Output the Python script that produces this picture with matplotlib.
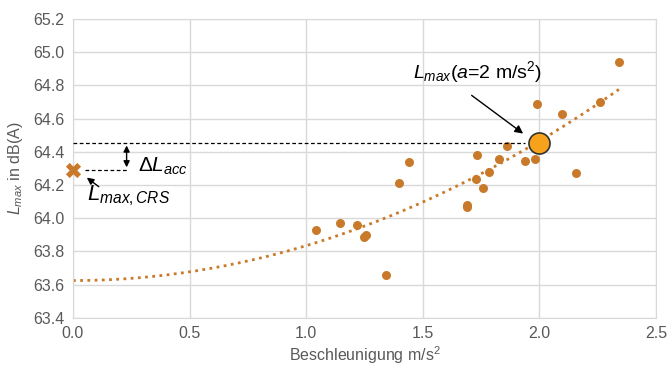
import matplotlib.pyplot as plt
import numpy as np

plt.rcParams['font.family'] = ['Liberation Sans', 'DejaVu Sans']
plt.rcParams['mathtext.fontset'] = 'custom'
plt.rcParams['mathtext.rm'] = 'Liberation Sans'
plt.rcParams['mathtext.it'] = 'Liberation Sans:italic'

# measured points (acceleration m/s^2, Lmax dB(A))
acc = [1.04, 1.145, 1.218, 1.248, 1.255, 1.342, 1.40, 1.44, 1.69, 1.69,
       1.728, 1.732, 1.758, 1.784, 1.827, 1.861, 1.94, 1.98, 1.99, 2.097,
       2.157, 2.26, 2.341]
lmax = [63.93, 63.97, 63.96, 63.89, 63.90, 63.66, 64.21, 64.34, 64.07, 64.08,
        64.236, 64.38, 64.18, 64.28, 64.356, 64.435, 64.345, 64.356, 64.69, 64.63,
        64.27, 64.70, 64.94]

# trend line coefficients (c2, c1, c0)
trend = [0.21, 0.0, 63.625]

# reference values
a_ref = 2.0
l_ref = 64.455
l_crs = 64.29

xticks = [0.0, 0.5, 1.0, 1.5, 2.0, 2.5]
yticks = [63.4, 63.6, 63.8, 64.0, 64.2, 64.4, 64.6, 64.8, 65.0, 65.2]

dot_col = '#C87A2A'
txt_col = '#595959'

fig = plt.figure(figsize=(6.67, 3.65), dpi=100)
ax = fig.add_axes([0.1094, 0.129, 0.8741, 0.819])

# polynomial trend line
xs = np.linspace(0, max(acc), 200)
ax.plot(xs, np.polyval(trend, xs), color=dot_col, linestyle=(0, (1, 1.6)), lw=2.0, zorder=2)

ax.scatter(acc, lmax, s=42, color=dot_col, zorder=3, linewidths=0)
ax.scatter([0], [l_crs], marker='X', s=120, color=dot_col, zorder=4, linewidths=0, clip_on=False)
ax.scatter([a_ref], [l_ref], s=230, color='#F7A21B', edgecolor='#333333', linewidths=1.2, zorder=5)

# dashed reference lines
ax.plot([0, a_ref - 0.06], [l_ref, l_ref], color='black', ls=(0, (3, 2)), lw=0.9, zorder=3)
ax.plot([0.05, 0.23], [l_crs, l_crs], color='black', ls=(0, (3, 2)), lw=0.9, zorder=3)
ax.annotate('', xy=(0.23, l_ref), xytext=(0.23, l_crs),
            arrowprops=dict(arrowstyle='<|-|>', color='black', lw=1.0, mutation_scale=9))
ax.text(0.28, 64.31, r'$\mathit{\Delta L}_{acc}$', fontsize=15, color='black', va='center')

ax.annotate('', xy=(0.05, 64.255), xytext=(0.12, 64.18),
            arrowprops=dict(arrowstyle='-|>', color='black', lw=1.0, mutation_scale=10))
ax.text(0.06, 64.06, r'$L_{max,CRS}$', fontsize=16, color='black', va='bottom')

ax.annotate('', xy=(1.94, 64.5), xytext=(1.7, 64.75),
            arrowprops=dict(arrowstyle='-|>', color='black', lw=1.0, mutation_scale=12))
ax.text(1.46, 64.88, r'$L_{max}$($a$=2 m/s$^2$)', fontsize=14, color='black', va='center')

ax.set_xlim(0, 2.5)
ax.set_ylim(63.4, 65.2)
ax.set_xticks(xticks)
ax.set_yticks(yticks)
ax.set_xticklabels(['%.1f' % t for t in xticks])
ax.set_yticklabels(['%.1f' % t for t in yticks])
ax.tick_params(length=0, labelsize=11.5, colors=txt_col, pad=6)
ax.grid(True, color='#D9D9D9', lw=1.0)
ax.set_axisbelow(True)
for s in ax.spines.values():
    s.set_color('#D9D9D9')

ax.set_xlabel('Beschleunigung m/s$^2$', fontsize=11.5, color=txt_col, labelpad=2)
ax.set_ylabel(r'$L_{max}$ in dB(A)', fontsize=11.5, color=txt_col, labelpad=6)

fig.savefig('out.png', dpi=100)
